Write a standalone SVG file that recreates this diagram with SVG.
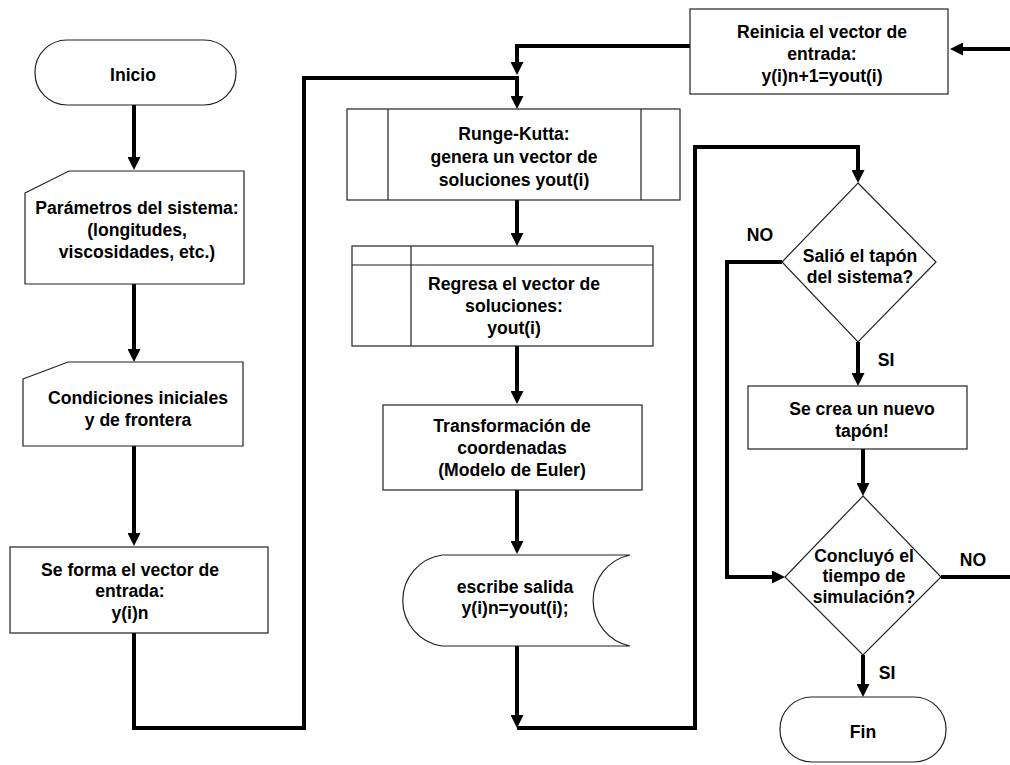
<svg xmlns="http://www.w3.org/2000/svg" width="1010" height="765" viewBox="0 0 1010 765">
<defs>
<style>
.box{fill:#fff;stroke:#222;stroke-width:1.2}
.ln{fill:none;stroke:#222;stroke-width:1.2}
.c{fill:none;stroke:#000;stroke-width:4;stroke-linejoin:miter}
.a{marker-end:url(#ah)}
text{font-family:"Liberation Sans",Arial,sans-serif;font-weight:bold;font-size:17.6px;fill:#000;text-anchor:middle}
</style>
<marker id="ah" markerUnits="userSpaceOnUse" markerWidth="14" markerHeight="13" refX="0" refY="6.5" orient="auto" viewBox="0 0 14 13">
<path d="M0,0 L13,6.5 L0,13 Z" fill="#000"/>
</marker>
</defs>
<rect width="1010" height="765" fill="#fff"/>

<g id="connectors">
<path class="c a" d="M134,105 V157"/>
<path class="c a" d="M134,284 V349"/>
<path class="c a" d="M134,446 V533"/>
<path class="c a" d="M134,633 V728 H304 V78 H517 V96"/>
<path class="c a" d="M690,46 H517 V62"/>
<path class="c a" d="M517,200 V233"/>
<path class="c a" d="M517,346 V391"/>
<path class="c a" d="M517,490 V541"/>
<path class="c a" d="M517,646 V715"/>
<path class="c a" d="M517,728 H695 V147 H858 V170"/>
<path class="c a" d="M782,262 H727 V577 H772"/>
<path class="c a" d="M858,342 V373"/>
<path class="c a" d="M863,449 V483"/>
<path class="c" d="M941,577 H1010"/>
<path class="c a" d="M863,655 V684"/>
<path class="c a" d="M1010,49 H963"/>
</g>

<g id="inicio">
<rect class="box" x="35" y="40" width="201" height="65" rx="32" ry="32"/>
<text x="133" y="81">Inicio</text>
</g>

<g id="parametros">
<polygon class="box" points="25,193 69,171 244,171 244,284 25,284"/>
<text x="137" y="214">Parámetros del sistema:</text>
<text x="137" y="236">(longitudes,</text>
<text x="137" y="258">viscosidades, etc.)</text>
</g>

<g id="condiciones">
<polygon class="box" points="23,379 68,362 243,362 243,446 23,446"/>
<text x="138" y="404">Condiciones iniciales</text>
<text x="138" y="426">y de frontera</text>
</g>

<g id="seforma">
<rect class="box" x="10" y="547" width="258" height="86"/>
<text x="130" y="576">Se forma el vector de</text>
<text x="130" y="597">entrada:</text>
<text x="130" y="619">y(i)n</text>
</g>

<g id="reinicia">
<rect class="box" x="690" y="9" width="258" height="85"/>
<text x="822" y="38">Reinicia el vector de</text>
<text x="822" y="60">entrada:</text>
<text x="822" y="82">y(i)n+1=yout(i)</text>
</g>

<g id="rungekutta">
<rect class="box" x="347" y="109" width="333" height="91"/>
<line class="ln" x1="388" y1="109" x2="388" y2="200"/>
<line class="ln" x1="641" y1="109" x2="641" y2="200"/>
<text x="514" y="140">Runge-Kutta:</text>
<text x="514" y="163">genera un vector de</text>
<text x="514" y="186">soluciones yout(i)</text>
</g>

<g id="regresa">
<rect class="box" x="352" y="246" width="301" height="100"/>
<line class="ln" x1="352" y1="265" x2="653" y2="265"/>
<line class="ln" x1="411" y1="246" x2="411" y2="346"/>
<text x="514" y="290">Regresa el vector de</text>
<text x="514" y="312">soluciones:</text>
<text x="514" y="334">yout(i)</text>
</g>

<g id="transformacion">
<rect class="box" x="383" y="405" width="259" height="85"/>
<text x="512" y="432">Transformación de</text>
<text x="512" y="454">coordenadas</text>
<text x="512" y="476">(Modelo de Euler)</text>
</g>

<g id="escribe">
<path class="box" d="M442,555 H630 A46.5,46.5 0 0 0 630,646 H442 A46,46 0 0 1 442,555 Z"/>
<text x="515" y="593">escribe salida</text>
<text x="515" y="614">y(i)n=yout(i);</text>
</g>

<g id="salio">
<polygon class="box" points="858,183 936,262 858,342 782,262"/>
<text x="860" y="262">Salió el tapón</text>
<text x="860" y="283">del sistema?</text>
</g>

<g id="secrea">
<rect class="box" x="748" y="386" width="219" height="63"/>
<text x="862" y="415">Se crea un nuevo</text>
<text x="862" y="437">tapón!</text>
</g>

<g id="concluyo">
<polygon class="box" points="863,496 941,577 863,655 785,577"/>
<text x="864" y="562">Concluyó el</text>
<text x="864" y="582">tiempo de</text>
<text x="864" y="603">simulación?</text>
</g>

<g id="fin">
<rect class="box" x="780" y="697" width="166" height="65" rx="32" ry="32"/>
<text x="863" y="738">Fin</text>
</g>

<g id="labels">
<text x="760" y="241">NO</text>
<text x="886" y="366">SI</text>
<text x="973" y="566">NO</text>
<text x="887" y="679">SI</text>
</g>
</svg>
